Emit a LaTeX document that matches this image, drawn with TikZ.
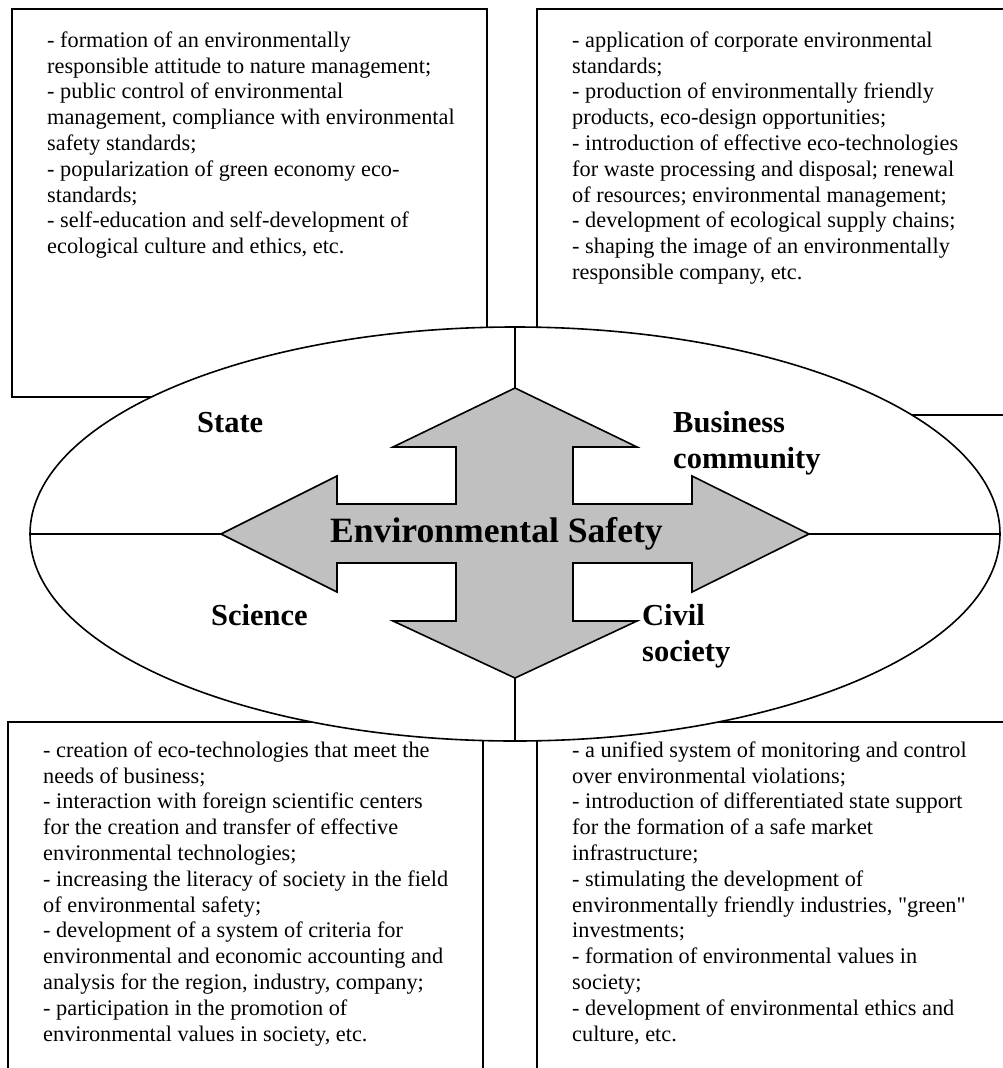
\documentclass[tikz,border=0pt]{standalone}
\usepackage{fontspec}
\setmainfont{Liberation Serif}
\newfontfamily\plainq{Liberation Serif}
\usetikzlibrary{shapes.geometric}
\definecolor{crossgray}{RGB}{192,192,192}

\begin{document}
\begin{tikzpicture}[
  x=1pt, y=-1pt,
  panel/.style={draw, line width=2pt},
  txt/.style={anchor=north west, inner sep=0pt, align=left, font={\fontsize{22.3}{25.8}\selectfont}},
  lbl/.style={inner sep=0pt, font={\bfseries\fontsize{30.5}{36}\selectfont}},
  divider/.style={line width=1.6pt},
  cross/.style={draw, line width=1.6pt, fill=crossgray, line join=miter},
]
\useasboundingbox (0,0) rectangle (1003,1068);

%% ---- Four text panels ----
\draw[panel] (12,9) rectangle (487,397);
\draw[panel] (537,9) rectangle (1015,415);
\draw[panel] (8,722) rectangle (483,1080);
\draw[panel] (537,722) rectangle (1015,1080);

\node[txt] (stateTxt) at (47,29) {\strut- formation of an environmentally\\
responsible attitude to nature management;\\
- public control of environmental\\
management, compliance with environmental\\
safety standards;\\
- popularization of green economy eco-\\
standards;\\
- self-education and self-development of\\
ecological culture and ethics, etc.};

\node[txt] (businessTxt) at (572,29) {\strut- application of corporate environmental\\
standards;\\
- production of environmentally friendly\\
products, eco-design opportunities;\\
- introduction of effective eco-technologies\\
for waste processing and disposal; renewal\\
of resources; environmental management;\\
- development of ecological supply chains;\\
- shaping the image of an environmentally\\
responsible company, etc.};

\node[txt] (scienceTxt) at (43,739) {\strut- creation of eco-technologies that meet the\\
needs of business;\\
- interaction with foreign scientific centers\\
for the creation and transfer of effective\\
environmental technologies;\\
- increasing the literacy of society in the field\\
of environmental safety;\\
- development of a system of criteria for\\
environmental and economic accounting and\\
analysis for the region, industry, company;\\
- participation in the promotion of\\
environmental values in society, etc.};

\node[txt] (civilTxt) at (572,739) {\strut- a unified system of monitoring and control\\
over environmental violations;\\
- introduction of differentiated state support\\
for the formation of a safe market\\
infrastructure;\\
- stimulating the development of\\
environmentally friendly industries, {\plainq"green"}\\
investments;\\
- formation of environmental values in\\
society;\\
- development of environmental ethics and\\
culture, etc.};

%% ---- Central ellipse and its dividers ----
\node[ellipse, draw, fill=white, line width=1.6pt, inner sep=0pt,
      minimum width=970pt, minimum height=414pt] (core) at (515,534) {};

\coordinate (tipN) at (515,388);
\coordinate (tipS) at (515,678);
\coordinate (tipW) at (221,534);
\coordinate (tipE) at (809,534);

\draw[divider] (core.north) -- (tipN);
\draw[divider] (tipS) -- (core.south);
\draw[divider] (core.west) -- (tipW);
\draw[divider] (tipE) -- (core.east);

%% ---- Four-way arrow ----
\draw[cross] (tipN) -- (637,447) -- (573,447) -- (573,504) -- (692,504) -- (692,476)
  -- (tipE) -- (692,592) -- (692,563) -- (573,563) -- (573,621) -- (637,621)
  -- (tipS) -- (393,621) -- (456,621) -- (456,563) -- (337,563) -- (337,592)
  -- (tipW) -- (337,476) -- (337,504) -- (456,504) -- (456,447) -- (393,447) -- cycle;

\node[inner sep=0pt, anchor=base west, font={\bfseries\fontsize{35.6}{40}\selectfont}] (safety) at (330,542) {Environmental Safety};

%% ---- Sector labels ----
\node[lbl, anchor=base west] (state) at (197,432) {State};
\node[lbl, anchor=north west, align=left] (business) at (673,406.8) {\strut Business\\community};
\node[lbl, anchor=base west] (science) at (211,625) {Science};
\node[lbl, anchor=north west, align=left] (civil) at (642,599.8) {\strut Civil\\society};

\end{tikzpicture}
\end{document}
